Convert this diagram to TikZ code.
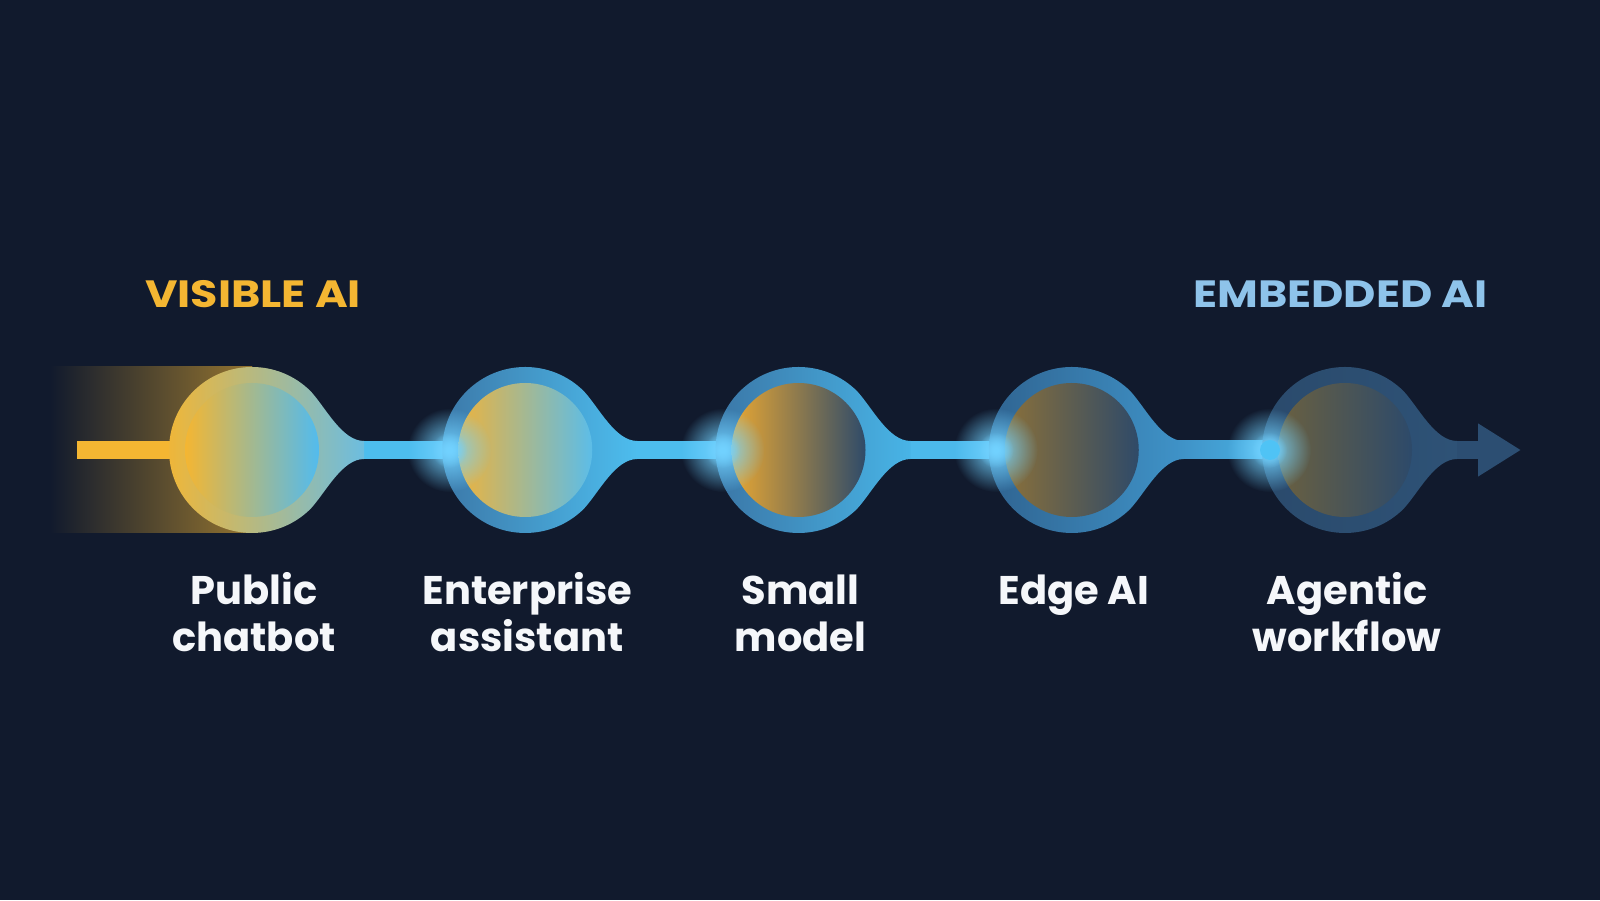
\documentclass[tikz,border=0pt]{standalone}
\usepackage{fontspec}
\setmainfont{Poppins}
\newfontfamily\headfont{Poppins}[FakeStretch=1.17]
\usetikzlibrary{fadings,calc,arrows.meta}
\definecolor{bg}{HTML}{111A2D}
\definecolor{yel}{HTML}{F4B632}
\definecolor{cyanb}{HTML}{4DBDEE}
\definecolor{midb}{HTML}{3E8FC4}
\definecolor{dimb}{HTML}{2C4E72}
\definecolor{txtw}{HTML}{F5F7FA}
\definecolor{embb}{HTML}{8EC3EA}
\definecolor{glowc}{HTML}{72D2FF}
\definecolor{ringZm}{HTML}{B8BD8A}
\definecolor{ringZr}{HTML}{6CBDE0}
\definecolor{inZr}{HTML}{52BBEE}
\definecolor{ringAl}{HTML}{3B76A6}
\definecolor{ringBl}{HTML}{3A74A4}
\definecolor{ringBr}{HTML}{48B4E6}
\definecolor{ringCl}{HTML}{2F628F}
\definecolor{ringCr}{HTML}{3F93C8}
\definecolor{ringDl}{HTML}{2A4A6C}
\definecolor{ringDr}{HTML}{2E5276}
\definecolor{inAl}{HTML}{ECB33E}
\definecolor{inAr}{HTML}{5CBDE8}
\definecolor{inBl}{HTML}{E8A733}
\definecolor{inBm}{HTML}{8A6F3C}
\definecolor{inBr}{HTML}{2F4B69}
\definecolor{inCl}{HTML}{8A703A}
\definecolor{inCr}{HTML}{2F4A68}
\definecolor{inDl}{HTML}{6A6040}
\definecolor{inDr}{HTML}{2D4A6A}
\definecolor{dotc}{HTML}{4FC3F5}
\tikzfading[name=glowfade, inner color=transparent!0, outer color=transparent!100]
\tikzset{
  lbl/.style={font=\bfseries\fontsize{40}{47}\selectfont, text=txtw, align=center, anchor=base, inner sep=0pt},
  head/.style={font=\headfont\bfseries\fontsize{38}{45}\selectfont, inner sep=0pt},
  bar/.style={line width=18pt},
  glow/.style={fill=glowc, path fading=glowfade}
}
\newcommand\tearpath{(112,9) .. controls (90,9) and (74,42) .. (58.7,58.7) arc[start angle=45,end angle=315,radius=83] .. controls (74,-42) and (90,-9) .. (112,-9) -- cycle}
\begin{document}
\begin{tikzpicture}[x=1pt,y=1pt]
\useasboundingbox (0,0) rectangle (1600,900);
\fill[bg] (0,0) rectangle (1600,900);
\coordinate (c1) at (252,450);
\coordinate (c2) at (525.25,450);
\coordinate (c3) at (798.5,450);
\coordinate (c4) at (1071.75,450);
\coordinate (c5) at (1345,450);
\coordinate (tailstart) at (77,450);
\coordinate (arrowend) at (1521,450);
% trail
\shade[left color=bg, right color=yel!58!bg] (50,367) rectangle (252,533);
\draw[bar, yel] (tailstart) -- ($(c1)+(-40,0)$);
% connectors
\draw[bar, cyanb] ($(c1)+(100,0)$) -- ($(c2)+(-70,0)$);
\draw[bar, cyanb] ($(c2)+(100,0)$) -- ($(c3)+(-70,0)$);
\draw[bar, cyanb!92!midb] ($(c3)+(100,0)$) -- ($(c4)+(-70,0)$);
\shade[left color=midb, right color=cyanb!80!midb] ($(c4)+(100,-9)$) rectangle ($(c5)+(-70,9)$);
\draw[bar, dimb, -{Triangle[length=43pt,width=50pt]}] ($(c5)+(100,0)$) -- (arrowend);
% circle 1
\begin{scope}[shift={(c1)}]
\shade[left color=yel, middle color=ringZm, right color=ringZr] \tearpath;
\shade[left color=yel, right color=inZr] (0,0) circle (67);
\end{scope}
% circle 2
\begin{scope}[shift={(c2)}]
\shade[left color=ringAl, right color=cyanb] \tearpath;
\shade[left color=inAl, right color=inAr] (0,0) circle (67);
\end{scope}
% circle 3
\begin{scope}[shift={(c3)}]
\shade[left color=ringBl, right color=ringBr] \tearpath;
\shade[left color=inBl, middle color=inBm, right color=inBr] (0,0) circle (67);
\end{scope}
% circle 4
\begin{scope}[shift={(c4)}]
\shade[left color=ringCl, right color=ringCr] \tearpath;
\shade[left color=inCl, right color=inCr] (0,0) circle (67);
\end{scope}
% circle 5
\begin{scope}[shift={(c5)}]
\shade[left color=ringDl, right color=ringDr] \tearpath;
\shade[left color=inDl, right color=inDr] (0,0) circle (67);
\end{scope}
% glows
\foreach \c in {c2,c3,c4,c5}{
  \fill[glow] ($(\c)+(-76,0)$) circle (42);
  \fill[glow] ($(\c)+(-76,0)$) circle (18);
}
\fill[dotc] ($(c5)+(-75,0)$) circle (10);
% headings
\node[head, text=yel, anchor=base west] (visible) at (145,592) {VISIBLE AI};
\node[head, text=embb, anchor=base east] (embedded) at (1488,592) {EMBEDDED AI};
% labels
\node[lbl] (l1) at ($(c1)+(2,-202)$) {Public\\chatbot};
\node[lbl] (l2) at ($(c2)+(2,-202)$) {Enterprise\\assistant};
\node[lbl] (l3) at ($(c3)+(2,-202)$) {Small\\model};
\node[lbl] (l4) at ($(c4)+(2,-155)$) {Edge AI};
\node[lbl] (l5) at ($(c5)+(2,-202)$) {Agentic\\workflow};
\end{tikzpicture}
\end{document}
